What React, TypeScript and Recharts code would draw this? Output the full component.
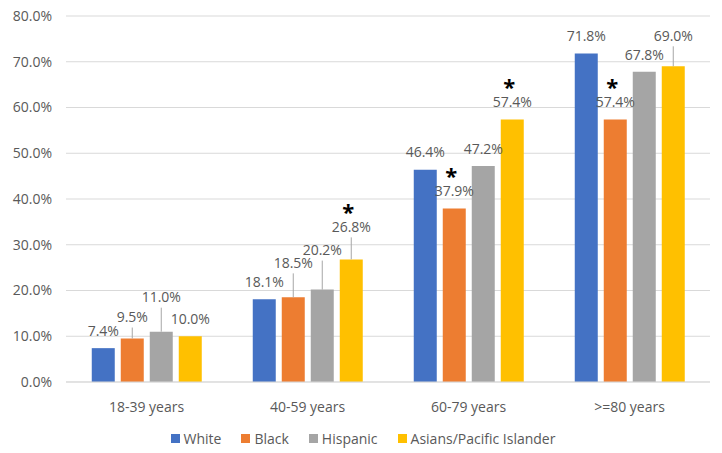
import React from "react";
import {
  BarChart,
  Bar,
  XAxis,
  YAxis,
  CartesianGrid,
  Legend,
  LabelList,
} from "recharts";

document.body.style.margin = "0";

const categories = ["18-39 years", "40-59 years", "60-79 years", ">=80 years"];
const white = [7.4, 18.1, 46.4, 71.8];
const black = [9.5, 18.5, 37.9, 57.4];
const hispanic = [11.0, 20.2, 47.2, 67.8];
const asian = [10.0, 26.8, 57.4, 69.0];
const yTicks = [0, 10, 20, 30, 40, 50, 60, 70, 80];

// asterisk = statistically significant vs White
const blackSignificant = [false, false, true, true];
const asianSignificant = [false, true, true, false];

const FONT = "'Open Sans', 'Noto Sans', sans-serif";
const TEXT = "#595959";

const series = [
  { key: "white", name: "White", color: "#4472C4", values: white, flags: [false, false, false, false], lift: [0, 0, 0, 0] },
  { key: "black", name: "Black", color: "#ED7D31", values: black, flags: blackSignificant, lift: [4, 17, 0, 0] },
  { key: "hispanic", name: "Hispanic", color: "#A5A5A5", values: hispanic, flags: [false, false, false, false], lift: [17, 22, 0, 0] },
  { key: "asian", name: "Asians/Pacific Islander", color: "#FFC000", values: asian, flags: asianSignificant, lift: [0, 15, 0, 13] },
];

const data = categories.map((c, i) => ({
  category: c,
  white: white[i],
  black: black[i],
  hispanic: hispanic[i],
  asian: asian[i],
}));

function makeLabel(s: (typeof series)[number]) {
  return (props: any) => {
    const { x, y, width, value, index } = props;
    const cx = Number(x) + Number(width) / 2;
    const top = Number(y);
    const lift = s.lift[index] || 0;
    const ly = top - 16 - lift;
    return (
      <g>
        {lift > 0 && (
          <line x1={cx} x2={cx} y1={ly + 9} y2={top} stroke="#A6A6A6" strokeWidth={1} />
        )}
        <text
          x={cx}
          y={ly}
          textAnchor="middle"
          dominantBaseline="middle"
          fill={TEXT}
          fontSize={14}
          fontFamily={FONT}
        >
          {Number(value).toFixed(1) + "%"}
        </text>
        {s.flags[index] && (
          <text
            x={cx - 3}
            y={ly - 14}
            textAnchor="middle"
            dominantBaseline="middle"
            fill="#000"
            fontSize={22}
            fontWeight="bold"
            fontFamily={FONT}
          >
            *
          </text>
        )}
      </g>
    );
  };
}

function LegendContent() {
  return (
    <div
      style={{
        display: "flex",
        justifyContent: "center",
        gap: 20,
        paddingTop: 17,
        paddingLeft: 16,
        fontFamily: FONT,
        fontSize: 14,
        color: TEXT,
      }}
    >
      {series.map((s) => (
        <div key={s.key} style={{ display: "flex", alignItems: "center", gap: 4 }}>
          <span style={{ width: 9, height: 9, background: s.color, display: "inline-block" }} />
          <span>{s.name}</span>
        </div>
      ))}
    </div>
  );
}

export default function App() {
  return (
    <div style={{ width: 722, height: 453, background: "#fff" }}>
      <BarChart
        width={722}
        height={453}
        data={data}
        margin={{ top: 16, right: 12, left: 0, bottom: 0 }}
        barCategoryGap="16%"
        barGap={6}
      >
        <CartesianGrid vertical={false} stroke="#D9D9D9" />
        <XAxis
          dataKey="category"
          axisLine={{ stroke: "#D9D9D9" }}
          tickLine={false}
          height={30}
          tickMargin={14}
          tick={{ fill: TEXT, fontSize: 14, fontFamily: FONT }}
        />
        <YAxis
          domain={[0, 80]}
          ticks={yTicks}
          width={66}
          axisLine={false}
          tickLine={false}
          tickSize={0}
          tickMargin={14}
          tickFormatter={(v: number) => v.toFixed(1) + "%"}
          tick={{ fill: TEXT, fontSize: 14, fontFamily: FONT }}
        />
        <Legend verticalAlign="bottom" height={41} content={<LegendContent />} />
        {series.map((s) => (
          <Bar key={s.key} dataKey={s.key} name={s.name} fill={s.color} isAnimationActive={false}>
            <LabelList dataKey={s.key} content={makeLabel(s)} />
          </Bar>
        ))}
      </BarChart>
    </div>
  );
}
